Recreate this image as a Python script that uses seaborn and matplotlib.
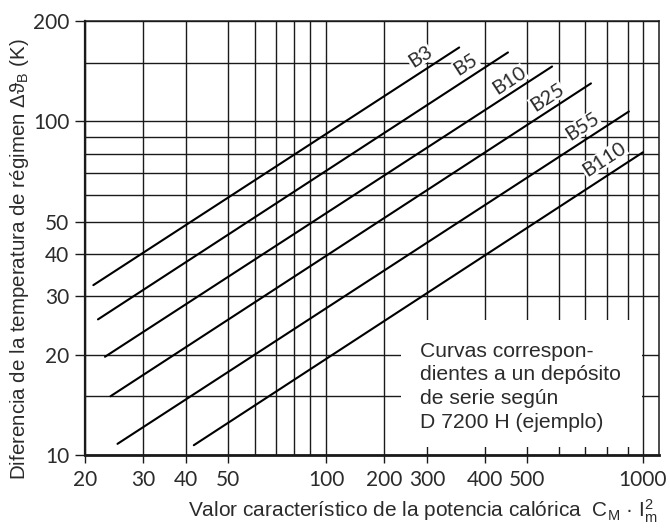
import numpy as np
import pandas as pd
import matplotlib
matplotlib.use("Agg")
import matplotlib.pyplot as plt
from matplotlib.patches import Rectangle
from matplotlib.ticker import NullFormatter, FixedFormatter
import seaborn as sns

# Series: straight operating curves for each model size
series = ["B3", "B5", "B10", "B25", "B55", "B110"]
x_start = [21.2, 21.9, 23.0, 23.9, 25.1, 41.7]
x_end = [352, 452, 577, 726, 906, 1000]
y_start = [32.3, 25.5, 19.7, 15.0, 10.8, 10.7]
y_end = [166.6, 161.0, 146.1, 130.0, 107.1, 80.8]

# Where each curve name sits along its line
label_x = [281, 364, 455, 561, 688, 786]
label_y = [156.5, 148.2, 132.7, 118.0, 96.6, 77.0]

# Axis ticks and grid values
x_major = [20, 30, 40, 50, 100, 200, 300, 400, 500, 1000]
x_major_labels = ["20", "30", "40", "50", "100", "200", "300", "400", "500", "1000"]
x_minor = [60, 70, 80, 90, 600, 700, 800, 900]
y_major = [10, 20, 30, 40, 50, 100, 200]
y_major_labels = ["10", "20", "30", "40", "50", "100", "200"]
y_minor = [15, 60, 70, 80, 90, 150]

# The printed abscissa is a hand-drawn logarithmic scale whose decades are
# not evenly spaced; it is reproduced as a piecewise scale through these knots.
scale_values = [10, 20, 30, 40, 50, 60, 70, 80, 90, 100, 200, 300, 400, 500,
                600, 700, 800, 900, 1000, 2000]
scale_pos = [-19, 85, 143, 186, 228, 255, 276, 294, 310, 326, 384, 427, 485,
             527, 559, 585, 607, 628, 643, 742]
log_knots = np.log10(scale_values)
pos_knots = np.array(scale_pos, dtype=float)


def forward(x):
    x = np.asarray(x, dtype=float)
    return np.interp(np.log10(np.clip(x, 1e-6, None)), log_knots, pos_knots)


def inverse(p):
    p = np.asarray(p, dtype=float)
    return 10 ** np.interp(p, pos_knots, log_knots)


sns.set_theme(style="ticks")
plt.rcParams["font.family"] = ["Liberation Sans", "DejaVu Sans"]
plt.rcParams["mathtext.fontset"] = "custom"
plt.rcParams["mathtext.rm"] = "Liberation Sans"
plt.rcParams["mathtext.it"] = "Liberation Sans:italic"

ink = "#1a1a1a"
text_col = "#2b2b2b"
thin_font = dict(family=["Lato", "Liberation Sans"], weight="normal")

rows = []
for name, xs, xe, ys, ye in zip(series, x_start, x_end, y_start, y_end):
    rows.append({"serie": name, "x": xs, "y": ys})
    rows.append({"serie": name, "x": xe, "y": ye})
df = pd.DataFrame(rows)

fig = plt.figure(figsize=(6.7, 5.29), dpi=100)
ax = fig.add_axes([85 / 670, 1 - 455 / 529, 574 / 670, 434 / 529])

ax.set_xscale("function", functions=(forward, inverse))
ax.set_yscale("log")
ax.set_xlim(20, 1119)
ax.set_ylim(10, 200)

# Grid first, underneath everything
ax.set_axisbelow(True)
ax.grid(True, which="both", color=ink, linewidth=1.0)

# White panel that holds the note in the lower right
ax.add_patch(Rectangle((0.5505, 0.0184), 0.4198, 0.2926, transform=ax.transAxes,
                       facecolor="white", edgecolor="none", zorder=1))

sns.lineplot(data=df, x="x", y="y", hue="serie", units="serie", estimator=None,
             palette=["black"] * len(series), legend=False, linewidth=1.5,
             sort=False, ax=ax, zorder=3)

for name, lx, ly in zip(series, label_x, label_y):
    ax.text(lx, ly, name, rotation=33, rotation_mode="anchor", ha="center",
            va="center", fontsize=14.5, color=text_col, zorder=4,
            bbox=dict(facecolor="white", edgecolor="none", pad=0.3),
            **thin_font)

ax.set_xticks(x_major)
ax.xaxis.set_major_formatter(FixedFormatter(x_major_labels))
ax.set_xticks(x_minor, minor=True)
ax.xaxis.set_minor_formatter(NullFormatter())
ax.set_yticks(y_major)
ax.yaxis.set_major_formatter(FixedFormatter(y_major_labels))
ax.set_yticks(y_minor, minor=True)
ax.yaxis.set_minor_formatter(NullFormatter())

ax.tick_params(axis="x", which="major", length=5.8, width=1.0, pad=5,
               labelsize=15, colors=ink, labelcolor=text_col, direction="out")
ax.tick_params(axis="y", which="major", length=7.2, width=1.0, pad=4,
               labelsize=15, colors=ink, labelcolor=text_col, direction="out")
ax.tick_params(which="minor", length=0)
for lab in ax.get_xticklabels() + ax.get_yticklabels():
    lab.set_family(thin_font["family"])
    lab.set_weight(thin_font["weight"])

for side, lw in (("left", 1.6), ("bottom", 2.0), ("top", 1.1), ("right", 1.1)):
    ax.spines[side].set_visible(True)
    ax.spines[side].set_linewidth(lw)
    ax.spines[side].set_color(ink)

ax.set_xlabel("")
ax.set_ylabel("")

ax.text(0.5836, 0.157,
        "Curvas correspon-\ndientes a un depósito\nde serie según\nD 7200 H (ejemplo)",
        transform=ax.transAxes, ha="left", va="center", fontsize=15.2,
        linespacing=1.32, color=text_col, zorder=4)

fig.text(20 / 670, 1 - 259.5 / 529,
         "Diferencia de la temperatura de régimen Δϑ$_\\mathrm{B}$ (K)",
         rotation=90, ha="center", va="center", fontsize=14.8, color=text_col)
fig.text(658 / 670, 1 - 517 / 529,
         "Valor característico de la potencia calórica  C$_\\mathrm{M}$ · I$_\\mathrm{m}^\\mathrm{2}$",
         ha="right", va="baseline", fontsize=15, color=text_col)

fig.savefig("out.png", dpi=100)
